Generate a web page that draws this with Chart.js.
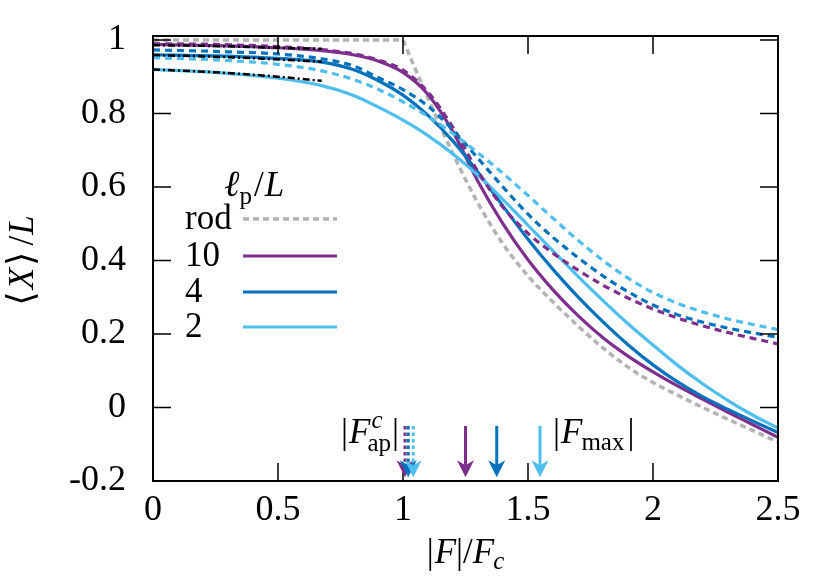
<!DOCTYPE html>
<html>
<head>
  <title>Mean extension vs force</title>
  <style>
    body { margin: 0; background: #fff; }
    #wrap { width: 831px; height: 586px; }
  </style>
</head>
<body>
  <div id="wrap"><canvas id="chart" width="831" height="586"></canvas></div>

  <script src="https://cdn.jsdelivr.net/npm/chart.js"></script>
  <script>
    // force grid |F|/Fc shared by the coloured curves
    const force = [0, 0.25, 0.5, 0.675, 0.8, 0.9, 1.0, 1.1, 1.2, 1.3, 1.4, 1.5, 1.6, 1.7, 1.8, 1.9, 2.0, 2.1, 2.2, 2.3, 2.4, 2.5];

    // <X>/L, solid curves (lp/L = 10, 4, 2)
    const ext10 = [0.988, 0.985, 0.979, 0.971, 0.96, 0.943, 0.912, 0.852, 0.75, 0.615, 0.5, 0.402, 0.32, 0.25, 0.19, 0.14, 0.097, 0.058, 0.022, -0.013, -0.047, -0.081];
    const ext4 = [0.96, 0.957, 0.95, 0.94, 0.92, 0.89, 0.85, 0.795, 0.725, 0.64, 0.548, 0.458, 0.376, 0.301, 0.233, 0.171, 0.116, 0.069, 0.029, -0.005, -0.037, -0.068];
    const ext2 = [0.92, 0.912, 0.896, 0.876, 0.85, 0.818, 0.782, 0.74, 0.69, 0.632, 0.566, 0.496, 0.426, 0.357, 0.291, 0.228, 0.17, 0.114, 0.064, 0.019, -0.021, -0.056];

    // <X>/L, dashed curves (same lp/L)
    const ext10d = [0.99, 0.988, 0.982, 0.974, 0.963, 0.946, 0.918, 0.858, 0.762, 0.642, 0.545, 0.474, 0.42, 0.374, 0.333, 0.298, 0.268, 0.243, 0.222, 0.204, 0.188, 0.173];
    const ext4d = [0.973, 0.969, 0.962, 0.949, 0.93, 0.898, 0.865, 0.82, 0.755, 0.678, 0.6, 0.526, 0.463, 0.408, 0.358, 0.315, 0.279, 0.252, 0.232, 0.216, 0.203, 0.191];
    const ext2d = [0.952, 0.946, 0.934, 0.916, 0.893, 0.866, 0.832, 0.792, 0.745, 0.693, 0.637, 0.577, 0.515, 0.455, 0.4, 0.352, 0.313, 0.283, 0.26, 0.241, 0.226, 0.212];

    // rigid rod
    const rodForce = [0, 1, 1.05, 1.1, 1.15, 1.2, 1.3, 1.4, 1.5, 1.6, 1.7, 1.8, 1.9, 2.0, 2.1, 2.2, 2.3, 2.4, 2.5];
    const rodExt = [1, 1, 0.92, 0.842, 0.764, 0.69, 0.556, 0.445, 0.358, 0.287, 0.222, 0.162, 0.11, 0.068, 0.033, 0.0, -0.032, -0.063, -0.094];

    // small force asymptotes (black dash-dot)
    const asymForce = [0, 0.225, 0.45, 0.675];
    const asym10 = [0.986, 0.984, 0.98, 0.976];
    const asym4 = [0.959, 0.955, 0.949, 0.941];
    const asym2 = [0.92, 0.913, 0.903, 0.889];

    // arrow positions: |F_max| and |F^c_ap| for lp/L = 10, 4, 2
    const fMax = [1.25, 1.375, 1.548];
    const fAp = [1.008, 1.021, 1.041];
    const arrowTop = -0.05, arrowTip = -0.19;

    const xTicks = [0, 0.5, 1, 1.5, 2, 2.5];
    const yTicks = [-0.2, 0, 0.2, 0.4, 0.6, 0.8, 1];
    const legendLabels = ['rod', '10', '4', '2'];

    const PURPLE = '#7E2F8E', DBLUE = '#0072BD', LBLUE = '#4DBEEE', GREY = '#B3B3B3';
    const SERIF = '"Liberation Serif", "DejaVu Serif", serif';
    const font = (size, it) => (it ? 'italic ' : '') + size + 'px ' + SERIF;

    const pts = (xs, ys) => xs.map((x, i) => ({ x: x, y: ys[i] }));

    const solid = (ys, color) => ({ data: pts(force, ys), borderColor: color, borderWidth: 3.2, cubicInterpolationMode: 'monotone' });
    const dashed = (ys, color) => ({ data: pts(force, ys), borderColor: color, borderWidth: 3.2, borderDash: [7, 5], cubicInterpolationMode: 'monotone' });
    const asym = ys => ({ data: pts(asymForce, ys), borderColor: '#000', borderWidth: 2.5, borderDash: [7, 3, 2, 3], cubicInterpolationMode: 'monotone' });

    // text made of runs {t, s, i, dy, dx} ; a run with sup/sub stacks two runs
    function runWidth(ctx, r) {
      if (r.sup) return Math.max(runWidth(ctx, r.sup), runWidth(ctx, r.sub));
      ctx.font = font(r.s, r.i);
      return ctx.measureText(r.t).width + (r.dx || 0);
    }
    function drawRuns(ctx, runs, x, y, align) {
      let w = 0;
      runs.forEach(r => { w += runWidth(ctx, r); });
      let cx = align === 'center' ? x - w / 2 : align === 'right' ? x - w : x;
      ctx.textAlign = 'left';
      ctx.textBaseline = 'alphabetic';
      ctx.fillStyle = '#000';
      runs.forEach(r => {
        const rw = runWidth(ctx, r);
        if (r.sup) {
          [r.sup, r.sub].forEach(q => {
            ctx.font = font(q.s, q.i);
            ctx.fillText(q.t, cx + (q.dx || 0), y + (q.dy || 0));
          });
        } else {
          ctx.font = font(r.s, r.i);
          ctx.fillText(r.t, cx + (r.dx || 0), y + (r.dy || 0));
        }
        cx += rw;
      });
      return w;
    }

    function drawArrow(ctx, x, yTop, yTip, color, dashedShaft) {
      const headL = 17, headW = 8.5, notch = 5;
      ctx.save();
      ctx.strokeStyle = color;
      ctx.fillStyle = color;
      ctx.lineWidth = 3;
      ctx.setLineDash(dashedShaft ? [3.5, 3] : []);
      ctx.beginPath();
      ctx.moveTo(x, yTop);
      ctx.lineTo(x, yTip - headL + notch);
      ctx.stroke();
      ctx.setLineDash([]);
      ctx.beginPath();
      ctx.moveTo(x, yTip);
      ctx.lineTo(x - headW, yTip - headL);
      ctx.lineTo(x, yTip - headL + notch);
      ctx.lineTo(x + headW, yTip - headL);
      ctx.closePath();
      ctx.fill();
      ctx.restore();
    }

    const decorations = {
      id: 'decorations',
      afterDatasetsDraw(chart) {
        const ctx = chart.ctx;
        const a = chart.chartArea;
        const xs = chart.scales.x, ys = chart.scales.y;

        ctx.save();
        // frame + inward ticks on all four sides
        ctx.strokeStyle = '#000';
        ctx.lineWidth = 1.5;
        ctx.beginPath();
        xTicks.forEach(v => {
          const px = xs.getPixelForValue(v);
          ctx.moveTo(px, a.bottom); ctx.lineTo(px, a.bottom - 18);
          ctx.moveTo(px, a.top); ctx.lineTo(px, a.top + 18);
        });
        yTicks.forEach(v => {
          const py = ys.getPixelForValue(v);
          ctx.moveTo(a.left, py); ctx.lineTo(a.left + 18, py);
          ctx.moveTo(a.right, py); ctx.lineTo(a.right - 18, py);
        });
        ctx.stroke();
        ctx.lineWidth = 2;
        ctx.strokeRect(a.left, a.top, a.right - a.left, a.bottom - a.top);

        // arrows
        const colors = [PURPLE, DBLUE, LBLUE];
        const yT = ys.getPixelForValue(arrowTop), yB = ys.getPixelForValue(arrowTip);
        fAp.forEach((v, i) => drawArrow(ctx, xs.getPixelForValue(v), yT, yB, colors[i], true));
        fMax.forEach((v, i) => drawArrow(ctx, xs.getPixelForValue(v), yT, yB, colors[i], false));

        // arrow labels
        const base = 443;
        drawRuns(ctx, [
          { t: '|', s: 35 }, { t: 'F', s: 35, i: true, dx: 1 },
          { sup: { t: 'c', s: 25, i: true, dy: -15, dx: 1 }, sub: { t: 'ap', s: 25, dy: 8, dx: -3 } },
          { t: '|', s: 35, dx: 1 }
        ], xs.getPixelForValue(fAp[0]) - 6, base, 'right');
        drawRuns(ctx, [
          { t: '|', s: 35 }, { t: 'F', s: 35, i: true, dx: 1 },
          { t: 'max', s: 25, dy: 7, dx: -1 },
          { t: '|', s: 35, dx: 3 }
        ], xs.getPixelForValue(fMax[2]) + 13, base, 'left');

        // axis titles
        drawRuns(ctx, [
          { t: '|', s: 35 }, { t: 'F', s: 35, i: true, dx: 1 }, { t: '|/', s: 35 },
          { t: 'F', s: 35, i: true }, { t: 'c', s: 25, i: true, dy: 6, dx: -1 }
        ], (a.left + a.right) / 2, 563, 'center');
        ctx.save();
        ctx.translate(33, (a.top + a.bottom) / 2 + 2);
        ctx.rotate(-Math.PI / 2);
        drawRuns(ctx, [
          { t: '\u27E8', s: 37 }, { t: 'X', s: 35, i: true, dx: 2 }, { t: '\u27E9', s: 37, dx: 2 }, { t: '/', s: 35, dx: 6 }, { t: 'L', s: 35, i: true, dx: 1 }
        ], 0, 0, 'center');
        ctx.restore();

        // legend
        drawRuns(ctx, [
          { t: '\u2113', s: 37, i: true }, { t: 'p', s: 25, dy: 8 }, { t: '/', s: 35, dx: 2 }, { t: 'L', s: 35, i: true, dx: 1 }
        ], 224, 196, 'left');
        const legendStyles = [
          { c: GREY, w: 3.5, d: [6, 4] },
          { c: PURPLE, w: 3.2, d: [] },
          { c: DBLUE, w: 3.2, d: [] },
          { c: LBLUE, w: 3.2, d: [] }
        ];
        const rowY = [219, 256, 292, 327];
        legendLabels.forEach((lab, i) => {
          drawRuns(ctx, [{ t: lab, s: 35 }], 185, rowY[i] + 10, 'left');
          ctx.strokeStyle = legendStyles[i].c;
          ctx.lineWidth = legendStyles[i].w;
          ctx.setLineDash(legendStyles[i].d);
          ctx.beginPath();
          ctx.moveTo(243, rowY[i]);
          ctx.lineTo(337, rowY[i]);
          ctx.stroke();
        });
        ctx.restore();
      }
    };

    new Chart(document.getElementById('chart'), {
      type: 'line',
      data: {
        datasets: [
          asym(asym10), asym(asym4), asym(asym2),
          dashed(ext2d, LBLUE), dashed(ext4d, DBLUE), dashed(ext10d, PURPLE),
          solid(ext2, LBLUE), solid(ext4, DBLUE), solid(ext10, PURPLE),
          { data: pts(rodForce.slice(1), rodExt.slice(1)), borderColor: GREY, borderWidth: 3.5, borderDash: [6, 4], cubicInterpolationMode: 'monotone' },
          { data: pts(rodForce.slice(0, 2), rodExt.slice(0, 2)), borderColor: GREY, borderWidth: 3.5, borderDash: [6, 4] }
        ]
      },
      options: {
        responsive: false,
        animation: false,
        devicePixelRatio: 1,
        events: [],
        layout: { padding: { top: 36, right: 53, left: 0, bottom: 0 } },
        elements: { point: { radius: 0 }, line: { fill: false } },
        plugins: { legend: { display: false }, tooltip: { enabled: false } },
        scales: {
          x: {
            type: 'linear', min: 0, max: 2.5,
            grid: { display: false }, border: { display: false },
            afterBuildTicks: s => { s.ticks = xTicks.map(v => ({ value: v })); },
            afterFit: s => { s.height = 105; s.paddingLeft = 0; s.paddingRight = 0; },
            ticks: { autoSkip: false, maxRotation: 0, padding: 0, color: '#000', font: { family: SERIF, size: 36 }, callback: v => String(v) }
          },
          y: {
            type: 'linear', min: -0.2, max: 1.011,
            grid: { display: false }, border: { display: false },
            afterBuildTicks: s => { s.ticks = yTicks.map(v => ({ value: v })); },
            afterFit: s => { s.width = 153; s.paddingTop = 0; s.paddingBottom = 0; },
            ticks: { autoSkip: false, padding: 19, color: '#000', font: { family: SERIF, size: 36 }, callback: v => String(v) }
          }
        }
      },
      plugins: [decorations]
    });
  </script>
</body>
</html>
